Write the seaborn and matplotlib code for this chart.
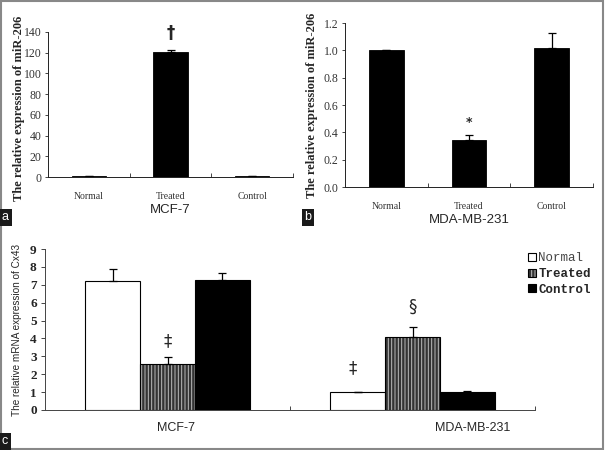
import matplotlib
matplotlib.use("Agg")
import matplotlib.pyplot as plt
import seaborn as sns
import pandas as pd
from matplotlib.colors import to_rgba
from matplotlib.patches import Rectangle
from matplotlib.ticker import FormatStrFormatter

# data
groups = ["Normal", "Treated", "Control"]

mcf7_mir = [1.0, 120.5, 1.0]
mcf7_mir_err = [0.0, 1.8, 0.0]

mda_mir = [1.0, 0.344, 1.017]
mda_mir_err = [0.0, 0.036, 0.11]

cells = ["MCF-7", "MDA-MB-231"]
cx43_normal = [7.21, 1.0]
cx43_treated = [2.57, 4.1]
cx43_control = [7.27, 0.98]
cx43_normal_err = [0.65, 0.0]
cx43_treated_err = [0.37, 0.52]
cx43_control_err = [0.37, 0.06]

sns.set_style("ticks")
plt.rcParams["font.family"] = ["Liberation Serif", "DejaVu Serif"]
plt.rcParams["hatch.linewidth"] = 0.7

fig = plt.figure(figsize=(6.05, 4.5), dpi=100)


def small_panel(rect, vals, errs, ymax, ystep, fmt, marks, ylabel, xlabel):
    ax = fig.add_axes(rect)
    sns.barplot(x=groups, y=vals, color="black", width=0.42, ax=ax,
                saturation=1, edgecolor="black", linewidth=0.6)
    xs = [p.get_x() + p.get_width() / 2 for p in ax.patches]
    ax.errorbar(xs, vals, yerr=[[0] * 3, errs], fmt="none", ecolor="black",
                elinewidth=0.9, capsize=3, capthick=0.9)
    for x, (y, s, fs) in zip(xs, marks):
        if s:
            ax.text(x, y, s, ha="center", va="center", fontsize=fs,
                    family=["DejaVu Sans"], fontweight="bold")
    ax.set_xlim(-0.5, 2.5)
    ax.set_ylim(0, ymax)
    ax.set_yticks([i * ystep for i in range(int(round(ymax / ystep)) + 1)])
    ax.yaxis.set_major_formatter(FormatStrFormatter(fmt))
    ax.set_xticks([0.5, 1.5, 2.5], minor=True)
    ax.tick_params(axis="x", which="major", length=0, pad=11, labelsize=7)
    ax.tick_params(axis="x", which="minor", direction="in", length=3, width=0.6)
    ax.tick_params(axis="y", direction="out", length=2.5, width=0.6,
                   labelsize=8.5, pad=2)
    for lab in ax.get_xticklabels():
        lab.set_color("#333333")
    for lab in ax.get_yticklabels():
        lab.set_color("#333333")
    sns.despine(ax=ax)
    for sp in ("left", "bottom"):
        ax.spines[sp].set_linewidth(0.7)
        ax.spines[sp].set_color("#222222")
    ax.set_ylabel(ylabel, fontsize=9, fontweight="bold")
    ax.set_xlabel(xlabel, fontsize=9.5, family=["Liberation Sans"], labelpad=2)
    return ax


# panel a
axa = small_panel([48 / 605, (450 - 177) / 450, 245 / 605, 145 / 450],
                  mcf7_mir, mcf7_mir_err, 140, 20, "%d",
                  [(0, "", 0), (139, "\u2020", 12), (0, "", 0)],
                  "The relative expression of miR-206", "MCF-7")
axa.yaxis.set_label_coords(-0.095, 0.47)

# panel b
axb = small_panel([345 / 605, (450 - 187) / 450, 248 / 605, 164 / 450],
                  mda_mir, mda_mir_err, 1.2, 0.2, "%.1f",
                  [(0, "", 0), (0.475, "*", 9), (0, "", 0)],
                  "The relative expression of miR-206", "MDA-MB-231")
axb.yaxis.set_label_coords(-0.11, 0.5)

# panel c
df = pd.DataFrame({
    "cell": cells * 3,
    "group": [g for g in groups for _ in cells],
    "value": cx43_normal + cx43_treated + cx43_control,
    "err": cx43_normal_err + cx43_treated_err + cx43_control_err,
})
axc = fig.add_axes([45 / 605, (450 - 410) / 450, 490 / 605, 161 / 450])
sns.barplot(data=df, x="cell", y="value", hue="group", hue_order=groups,
            palette={"Normal": "white", "Treated": "#333333", "Control": "black"},
            width=0.673, saturation=1, edgecolor="black", linewidth=0.8,
            ax=axc, legend=False)
for cont, g in zip(axc.containers, groups):
    sub = df[df["group"] == g]
    xs = [p.get_x() + p.get_width() / 2 for p in cont]
    if g == "Treated":
        for p in cont:
            p.set_hatch("|||||")
            p._hatch_color = to_rgba("#bdbdbd")
    axc.errorbar(xs, sub["value"], yerr=[[0] * len(sub), sub["err"]],
                 fmt="none", ecolor="black", elinewidth=0.9, capsize=3,
                 capthick=0.9)

tr = axc.containers[1]
axc.text(tr[0].get_x() + tr[0].get_width() / 2, 3.86, "\u2021", ha="center",
         va="center", fontsize=12, family=["DejaVu Sans"])
nm = axc.containers[0]
axc.text(nm[1].get_x() + nm[1].get_width() / 2 - 0.02, 2.35, "\u2021", ha="center",
         va="center", fontsize=12, family=["DejaVu Sans"])
axc.text(tr[1].get_x() + tr[1].get_width() / 2, 5.76, "\u00a7", ha="center",
         va="center", fontsize=12, family=["DejaVu Sans"])

axc.set_xlim(-0.5, 1.5)
axc.set_ylim(0, 9)
axc.set_yticks(range(10))
axc.set_xticks([])
axc.set_xticks([0.5, 1.5], minor=True)
axc.tick_params(axis="x", which="minor", direction="in", length=3, width=0.6)
axc.tick_params(axis="y", direction="out", length=3, width=0.6, labelsize=9.5,
                pad=3)
for lab in axc.get_yticklabels():
    lab.set_fontweight("bold")
sns.despine(ax=axc)
for sp in ("left", "bottom"):
    axc.spines[sp].set_linewidth(0.7)
    axc.spines[sp].set_color("#444444")
axc.set_xlabel("")
axc.set_ylabel("The relative mRNA expression of Cx43", fontsize=7.2,
               family=["Liberation Sans"], labelpad=6)
for name, px in zip(cells, [176, 473]):
    fig.text(px / 605, 1 - 428 / 450, name, ha="center", va="center",
             fontsize=9, family=["Liberation Sans"])

leg = axc.legend(handles=[c[0] for c in axc.containers], labels=groups,
                 loc="upper left", bbox_to_anchor=(522 / 605, 1 - 246 / 450),
                 bbox_transform=fig.transFigure, frameon=False,
                 handlelength=0.6, handleheight=0.6, handletextpad=0.2,
                 labelspacing=0.3, borderpad=0,
                 prop={"family": "Liberation Mono", "size": 9})
for t in leg.get_texts():
    if t.get_text() != "Normal":
        t.set_fontweight("bold")
    else:
        t.set_color("#444444")

# panel letters
for s, px, py in [("a", 2, 223), ("b", 304, 223), ("c", 2, 447)]:
    fig.text(px / 605, 1 - py / 450, s, ha="left", va="bottom", color="white",
             fontsize=9, family=["Liberation Sans"],
             bbox=dict(boxstyle="square,pad=0.2", fc="#1a1a1a", ec="none"))

fig.add_artist(Rectangle((0.002, 0.003), 0.995, 0.994, transform=fig.transFigure,
                         fill=False, ec="#888888", lw=1.5))

fig.savefig("out.png", dpi=100)
